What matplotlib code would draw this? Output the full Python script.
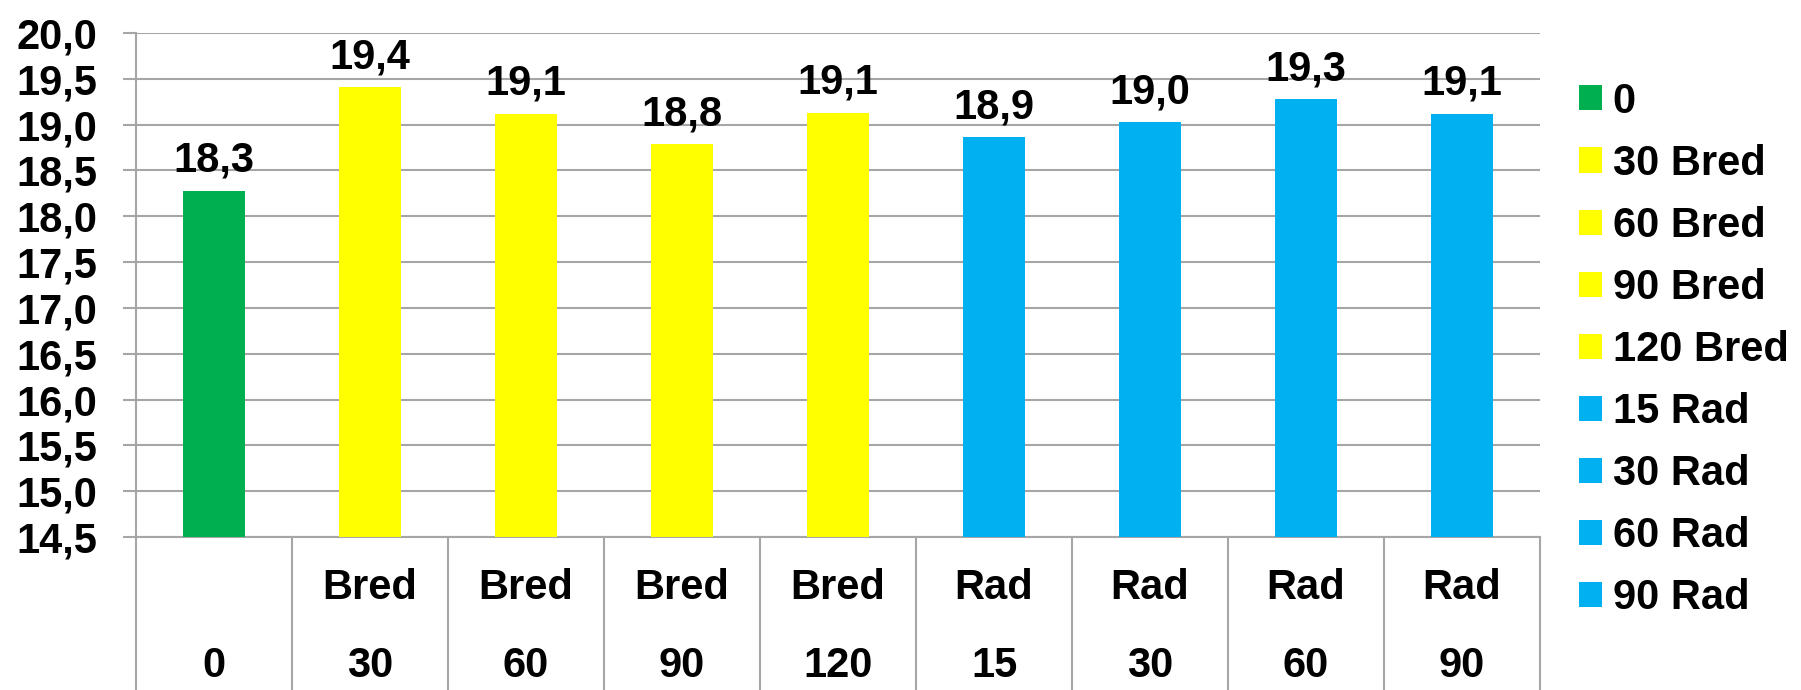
import matplotlib
matplotlib.use("Agg")
import matplotlib.pyplot as plt
from matplotlib.patches import Patch
from matplotlib.ticker import FuncFormatter, MultipleLocator
import matplotlib.transforms as mtrans

plt.rcParams['font.family'] = ['Liberation Sans', 'DejaVu Sans']
plt.rcParams['font.weight'] = 'bold'

group_labels = ["", "Bred", "Bred", "Bred", "Bred", "Rad", "Rad", "Rad", "Rad"]
dose_labels = ["0", "30", "60", "90", "120", "15", "30", "60", "90"]
series_names = ["0", "30 Bred", "60 Bred", "90 Bred", "120 Bred",
                "15 Rad", "30 Rad", "60 Rad", "90 Rad"]
values = [18.28, 19.41, 19.12, 18.79, 19.13, 18.86, 19.03, 19.28, 19.12]
bar_colors = ["#00B050", "#FFFF00", "#FFFF00", "#FFFF00", "#FFFF00",
              "#00B0F0", "#00B0F0", "#00B0F0", "#00B0F0"]

W, H = 1801, 690
fig = plt.figure(figsize=(W / 100, H / 100), dpi=100)
left, right, top, bottom = 136, 1540, 33, 537
ax = fig.add_axes([left / W, 1 - bottom / H, (right - left) / W, (bottom - top) / H])

ymin, ymax = 14.5, 20.0
FS = 30
grid_col = "#A6A6A6"

for i, (v, c, n) in enumerate(zip(values, bar_colors, series_names)):
    ax.bar(i, v - ymin, bottom=ymin, width=0.40, color=c, label=n, zorder=3)
    ax.annotate(f"{v:.1f}".replace('.', ','), xy=(i, v), xytext=(0, 13.5),
                textcoords="offset points", ha="center", va="baseline",
                fontsize=FS, fontweight="bold", zorder=4)

ax.set_xlim(-0.5, len(values) - 0.5)
ax.set_ylim(ymin, ymax)
ax.yaxis.set_major_locator(MultipleLocator(0.5))
ax.yaxis.set_major_formatter(FuncFormatter(lambda v, p: f"{v:.1f}".replace('.', ',')))
ax.tick_params(axis='y', labelsize=FS, length=9.5, width=1.5, color=grid_col, pad=18.5)
for lab in ax.get_yticklabels():
    lab.set_fontweight("bold")
ax.set_xticks([])
ax.grid(axis='y', color=grid_col, linewidth=1.5, zorder=0)
ax.set_axisbelow(True)
for s in ["top", "right"]:
    ax.spines[s].set_visible(False)
for s in ["left", "bottom"]:
    ax.spines[s].set_color(grid_col)
    ax.spines[s].set_linewidth(1.5)

# category table below the axis
trans = mtrans.blended_transform_factory(ax.transData, ax.transAxes)
ax_h = bottom - top
table_bottom = -(H - bottom) / ax_h
for k in range(len(values) + 1):
    ax.plot([k - 0.5, k - 0.5], [0, table_bottom], transform=trans, color=grid_col,
            linewidth=1.5, clip_on=False)
for i, (g, d) in enumerate(zip(group_labels, dose_labels)):
    ax.text(i, -51 / ax_h, g, transform=trans, ha="center", va="center",
            fontsize=FS, fontweight="bold")
    ax.text(i, -129 / ax_h, d, transform=trans, ha="center", va="center",
            fontsize=FS, fontweight="bold")

handles = [Patch(facecolor=c, edgecolor="none") for c in bar_colors]
fig.legend(handles, series_names, loc="center left",
           bbox_to_anchor=(1579 / W, 1 - 350 / H), frameon=False,
           prop={'weight': 'bold', 'size': FS},
           handlelength=0.55, handleheight=0.55, handletextpad=0.26,
           labelspacing=0.53, borderpad=0, borderaxespad=0)

fig.savefig("out.png", dpi=100)
